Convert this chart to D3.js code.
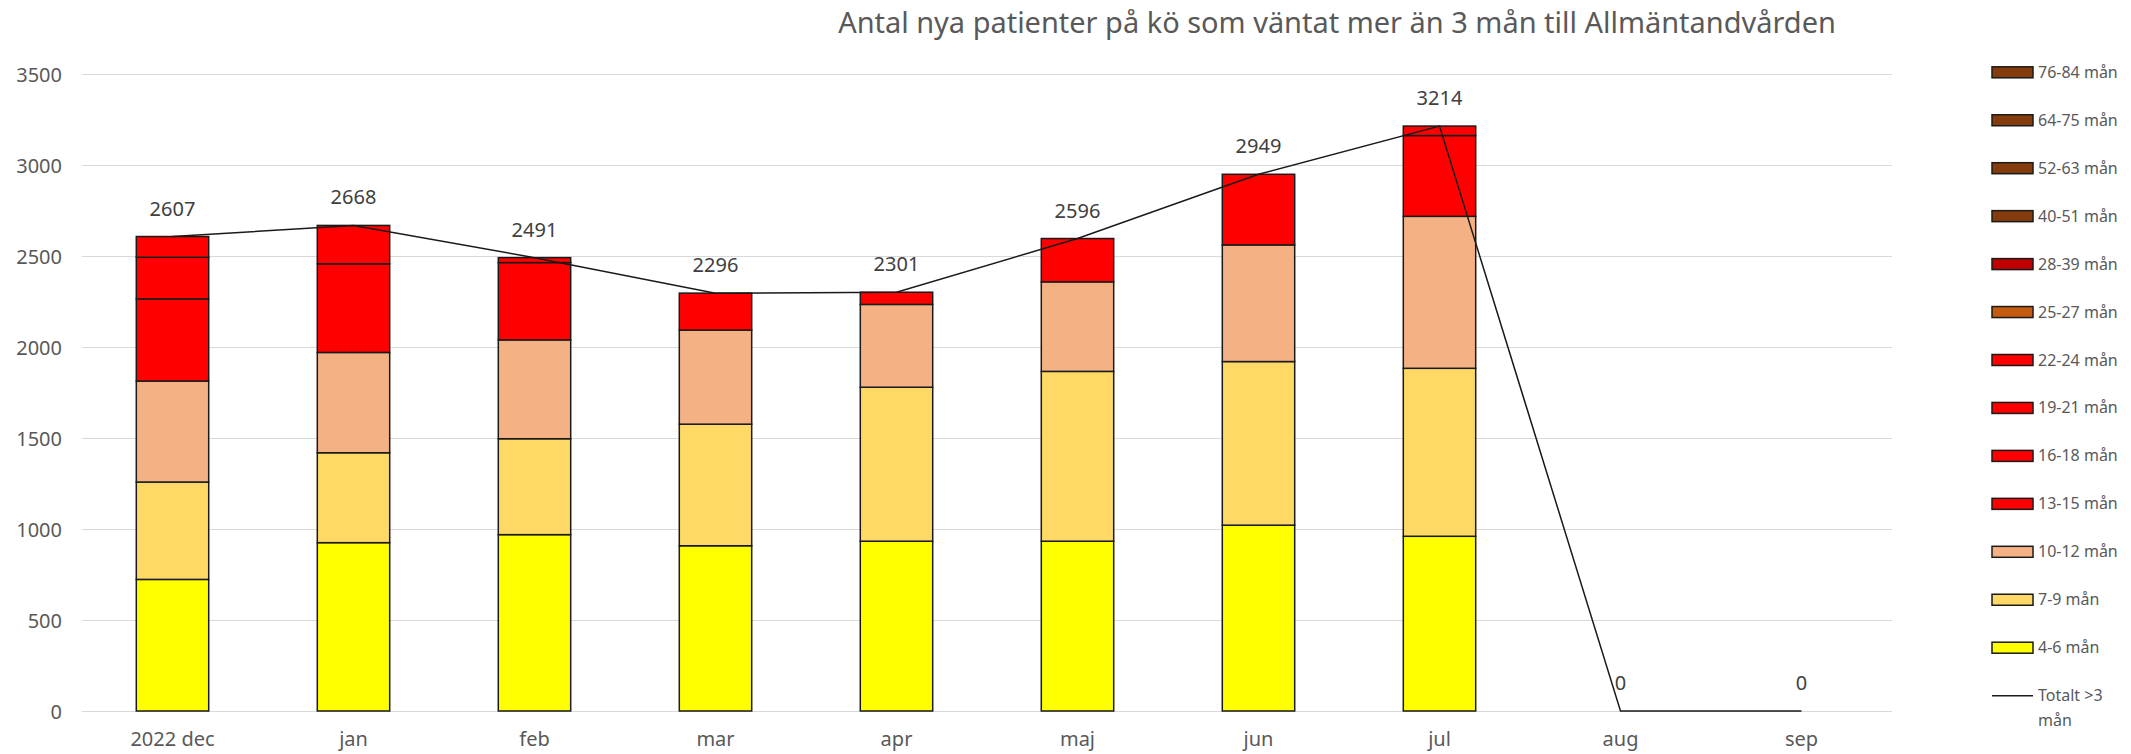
<!DOCTYPE html>
<html>
<head>
<meta charset="utf-8">
<script src="https://cdn.jsdelivr.net/npm/d3@7"></script>
<style>
  html, body { margin: 0; padding: 0; background: #fff; }
  svg { display: block; font-family: "Noto Sans", "Open Sans", sans-serif; }
  .grid line { stroke: #d9d9d9; stroke-width: 1; }
  .tick-label { fill: #595959; font-size: 20px; }
  .data-label { fill: #404040; font-size: 20px; }
  .legend text { fill: #595959; font-size: 16px; }
</style>
</head>
<body>
<svg id="chart" width="2131" height="754"></svg>
<script>
// Months on the x axis
const months = ["2022 dec", "jan", "feb", "mar", "apr", "maj", "jun", "jul", "aug", "sep"];

// Stacked series, bottom to top (antal patienter per väntetid)
const m4_6   = [723, 925, 969, 908, 933, 933, 1021, 960, 0, 0];
const m7_9   = [535, 494, 527, 668, 846, 933, 899, 923, 0, 0];
const m10_12 = [555, 551, 543, 517, 455, 492, 641, 835, 0, 0];
const m13_15 = [451, 487, 425, 203, 67, 238, 388, 444, 0, 0];
const m16_18 = [229, 211, 27, 0, 0, 0, 0, 52, 0, 0];
const m19_21 = [114, 0, 0, 0, 0, 0, 0, 0, 0, 0];
const m22_24 = [0, 0, 0, 0, 0, 0, 0, 0, 0, 0];
const m25_27 = [0, 0, 0, 0, 0, 0, 0, 0, 0, 0];
const m28_39 = [0, 0, 0, 0, 0, 0, 0, 0, 0, 0];
const m40_51 = [0, 0, 0, 0, 0, 0, 0, 0, 0, 0];
const m52_63 = [0, 0, 0, 0, 0, 0, 0, 0, 0, 0];
const m64_75 = [0, 0, 0, 0, 0, 0, 0, 0, 0, 0];
const m76_84 = [0, 0, 0, 0, 0, 0, 0, 0, 0, 0];

// Line series
const totals = [2607, 2668, 2491, 2296, 2301, 2596, 2949, 3214, 0, 0];

const yTicks = [0, 500, 1000, 1500, 2000, 2500, 3000, 3500];

const series = [
  { name: "4-6 mån",   values: m4_6,   color: "#ffff00" },
  { name: "7-9 mån",   values: m7_9,   color: "#ffd966" },
  { name: "10-12 mån", values: m10_12, color: "#f4b183" },
  { name: "13-15 mån", values: m13_15, color: "#ff0000" },
  { name: "16-18 mån", values: m16_18, color: "#ff0000" },
  { name: "19-21 mån", values: m19_21, color: "#ff0000" },
  { name: "22-24 mån", values: m22_24, color: "#ff0000" },
  { name: "25-27 mån", values: m25_27, color: "#c55a11" },
  { name: "28-39 mån", values: m28_39, color: "#c00000" },
  { name: "40-51 mån", values: m40_51, color: "#843c0c" },
  { name: "52-63 mån", values: m52_63, color: "#843c0c" },
  { name: "64-75 mån", values: m64_75, color: "#843c0c" },
  { name: "76-84 mån", values: m76_84, color: "#843c0c" },
];

const svg = d3.select("#chart");
const plot = { left: 82, right: 1892, top: 74, bottom: 711 };

const x = d3.scaleBand()
  .domain(months)
  .range([plot.left, plot.right])
  .paddingInner(0.6)
  .paddingOuter(0.3);

const y = d3.scaleLinear().domain([0, 3500]).range([plot.bottom, plot.top]);

// Title, sized to the width it has in the original
const title = svg.append("text")
  .attr("x", 1337).attr("y", 33)
  .attr("text-anchor", "middle")
  .attr("fill", "#595959")
  .style("font-size", "27px")
  .text("Antal nya patienter på kö som väntat mer än 3 mån till Allmäntandvården");
const tw = title.node().getComputedTextLength();
title.style("font-size", (27 * 998 / tw).toFixed(2) + "px");

// Gridlines
svg.append("g").attr("class", "grid")
  .selectAll("line").data(yTicks).join("line")
  .attr("x1", plot.left).attr("x2", plot.right)
  .attr("y1", d => y(d) + 0.5).attr("y2", d => y(d) + 0.5);

// Y axis labels
svg.append("g").selectAll("text").data(yTicks).join("text")
  .attr("class", "tick-label")
  .attr("x", 62).attr("y", d => y(d) + 7.5)
  .attr("text-anchor", "end")
  .text(d => d);

// X axis labels
svg.append("g").selectAll("text").data(months).join("text")
  .attr("class", "tick-label")
  .attr("x", d => x(d) + x.bandwidth() / 2).attr("y", 746)
  .attr("text-anchor", "middle")
  .text(d => d);

// Stacked bars
const rows = months.map((m, i) => {
  const r = { month: m };
  series.forEach(s => { r[s.name] = s.values[i]; });
  return r;
});
const stacked = d3.stack().keys(series.map(s => s.name))(rows);

svg.append("g").selectAll("g").data(stacked).join("g")
  .attr("fill", (d, i) => series[i].color)
  .selectAll("rect").data(d => d.filter(p => p[1] - p[0] > 0)).join("rect")
  .attr("x", d => x(d.data.month))
  .attr("width", x.bandwidth())
  .attr("y", d => y(d[1]))
  .attr("height", d => y(d[0]) - y(d[1]))
  .attr("stroke", "#1a1a1a")
  .attr("stroke-width", 1.5);

// Total line
const line = d3.line()
  .x((d, i) => x(months[i]) + x.bandwidth() / 2)
  .y(d => y(d));
svg.append("path").datum(totals)
  .attr("d", line)
  .attr("fill", "none")
  .attr("stroke", "#1a1a1a")
  .attr("stroke-width", 1.5);

svg.append("g").selectAll("text").data(totals).join("text")
  .attr("class", "data-label")
  .attr("x", (d, i) => x(months[i]) + x.bandwidth() / 2)
  .attr("y", d => y(d) - 21)
  .attr("text-anchor", "middle")
  .text(d => d);

// Legend
const legendItems = series.slice().reverse();
const legend = svg.append("g").attr("class", "legend");
const ly = i => 72.3 + i * 47.95;

const li = legend.selectAll("g").data(legendItems).join("g")
  .attr("transform", (d, i) => `translate(0,${ly(i)})`);
li.append("rect")
  .attr("x", 1992).attr("y", -5.5)
  .attr("width", 41).attr("height", 11)
  .attr("fill", d => d.color)
  .attr("stroke", "#1a1a1a").attr("stroke-width", 1.5);
li.append("text")
  .attr("x", 2038).attr("y", 5.5)
  .text(d => d.name);

const lt = legend.append("g").attr("transform", `translate(0,${ly(legendItems.length)})`);
lt.append("line")
  .attr("x1", 1992).attr("x2", 2033)
  .attr("stroke", "#1a1a1a").attr("stroke-width", 1.5);
const ltText = lt.append("text").attr("x", 2038).attr("y", 5.5);
ltText.append("tspan").attr("x", 2038).attr("dy", 0).text("Totalt >3");
ltText.append("tspan").attr("x", 2038).attr("dy", 25).text("mån");
</script>
</body>
</html>
